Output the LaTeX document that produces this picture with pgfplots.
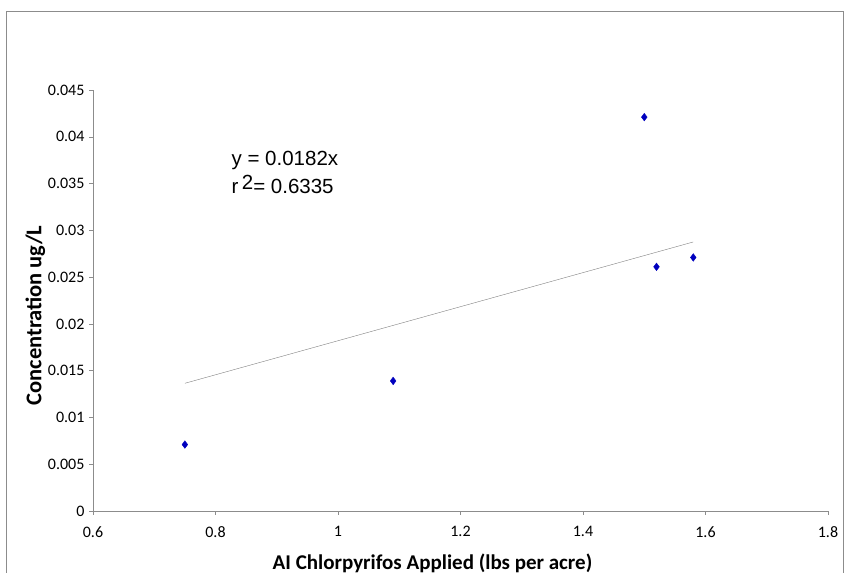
\documentclass[border=0pt]{standalone}
\usepackage{pgfplots}
\pgfplotsset{compat=1.18}
\usepackage{fontspec}
\setmainfont{Carlito}
\newfontfamily\arialfont{Liberation Sans}
\definecolor{ptblue}{RGB}{0,0,190}
\definecolor{axgray}{RGB}{140,140,140}
\begin{document}
\begin{tikzpicture}
\begin{axis}[
  scale only axis,
  width=735pt, height=421pt,
  xmin=0.6, xmax=1.8, ymin=0, ymax=0.045,
  scaled y ticks=false, scaled x ticks=false,
  axis x line*=bottom, axis y line*=left,
  axis line style={axgray, thin, -},
  xtick={0.6,0.8,1,1.2,1.4,1.6,1.8},
  xticklabels={0.6,0.8,1,1.2,1.4,1.6,1.8},
  ytick={0,0.005,0.01,0.015,0.02,0.025,0.03,0.035,0.04,0.045},
  yticklabels={0,0.005,0.01,0.015,0.02,0.025,0.03,0.035,0.04,0.045},
  tick align=outside, major tick length=4pt,
  tick style={axgray, thin},
  ticklabel style={font=\fontsize{16}{18}\selectfont},
  xticklabel style={yshift=-8pt},
  yticklabel style={xshift=-1pt},
  xlabel={AI Chlorpyrifos Applied (lbs per acre)},
  ylabel={Concentration ug/L},
  xlabel style={font=\fontsize{21}{24}\selectfont\bfseries, xshift=-28pt, yshift=-9pt},
  ylabel style={font=\fontsize{22.5}{26}\selectfont\bfseries, xshift=-15pt, yshift=-4pt},
  clip=false,
]
\addplot[gray, thin, no marks] coordinates {(0.75,0.01365) (1.58,0.028756)};
\addplot[only marks, mark=diamond*, mark size=3.8pt, ptblue] coordinates {
  (0.75,0.0071) (1.09,0.0139) (1.50,0.0421) (1.52,0.0261) (1.58,0.0271)};
\node[anchor=west, inner sep=0pt, font=\arialfont\fontsize{20.5}{22}\selectfont] at (axis cs:0.826,0.0375) {y = 0.0182x};
\node[anchor=west, inner sep=0pt, font=\arialfont\fontsize{20.5}{22}\selectfont] at (axis cs:0.826,0.0349) {r\,\raisebox{4pt}{2}= 0.6335};
\end{axis}
\draw[axgray] ([xshift=-87pt,yshift=-62pt]current axis.south west) -- ([xshift=-87pt,yshift=79pt]current axis.north west) -- ([xshift=15pt,yshift=79pt]current axis.north east) -- ([xshift=15pt,yshift=-62pt]current axis.south east);
\useasboundingbox ([xshift=-93pt,yshift=-61pt]current axis.south west) rectangle ([xshift=17pt,yshift=90pt]current axis.north east);
\end{tikzpicture}
\end{document}
